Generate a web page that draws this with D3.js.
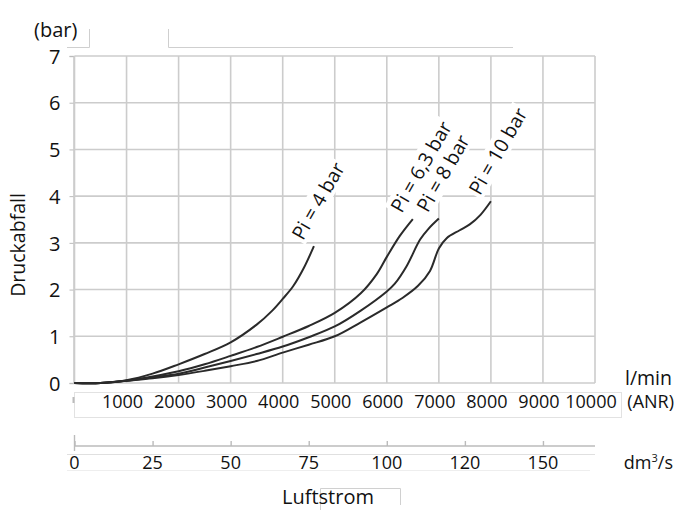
<!DOCTYPE html>
<html><head><meta charset="utf-8">
<script src="https://cdn.jsdelivr.net/npm/d3@7"></script>
<style>
html,body{margin:0;padding:0;background:#fff;}
svg{display:block;font-family:"Open Sans",sans-serif;}
</style></head>
<body>
<svg id="c" width="676" height="510"></svg>
<script>
// ---- data ----
const yTicks = [0,1,2,3,4,5,6,7];
const xTicks = [1000,2000,3000,4000,5000,6000,7000,8000,9000,10000];
const xGrid = [0,1000,2000,3000,4000,5000,6000,7000,8000,9000,10000];
const dmTicks = [0,25,50,75,100,125,150];
const dmLabels = ["0","25","50","75","100","120","150"];
const seriesNames = ["Pi = 4 bar","Pi = 6,3 bar","Pi = 8 bar","Pi = 10 bar"];
const pi4 = [[0,0],[500,0],[1000,0.06],[1500,0.2],[2000,0.4],[2500,0.62],[3000,0.87],[3500,1.25],[3800,1.55],[4000,1.8],[4200,2.07],[4400,2.45],[4600,2.93]];
const pi63 = [[0,0],[500,0],[1000,0.05],[1500,0.14],[2000,0.25],[2500,0.4],[3000,0.58],[3500,0.77],[4000,0.99],[4500,1.22],[5000,1.5],[5500,1.92],[5800,2.32],[6000,2.7],[6250,3.15],[6500,3.51]];
const pi8 = [[0,0],[500,0],[1000,0.05],[1500,0.12],[2000,0.2],[2500,0.33],[3000,0.47],[3500,0.62],[4000,0.78],[4500,0.98],[5000,1.21],[5500,1.55],[6000,1.96],[6150,2.12],[6380,2.5],[6640,3.07],[6800,3.3],[7000,3.52]];
const pi10 = [[0,0],[500,0],[1000,0.05],[1500,0.1],[2000,0.17],[2500,0.26],[3000,0.36],[3500,0.47],[4000,0.65],[4500,0.82],[5000,1.0],[5500,1.3],[6000,1.62],[6300,1.82],[6600,2.08],[6830,2.4],[7000,2.88],[7150,3.1],[7400,3.27],[7600,3.4],[7800,3.6],[8000,3.89]];
const series = [pi4, pi63, pi8, pi10];

// ---- drawing ----
const svg = d3.select("#c");
const x = d3.scaleLinear().domain([0,10000]).range([74.5,595]);
const xdm = d3.scaleLinear().domain([0,10000/60]).range([74.5,595]);
const y = d3.scaleLinear().domain([0,7]).range([383,56]);
const grid = "#cccccc";

// top artefact boxes
const art = svg.append("g").attr("stroke","#cfcfcf").attr("fill","none").attr("stroke-width",1);
art.append("path").attr("d","M67,47.5H89.5V29");
art.append("path").attr("d","M168.5,29V47.5H513");

// grid
const g = svg.append("g");
g.selectAll("line.v").data(xGrid).join("line")
  .attr("x1",d=>x(d)).attr("x2",d=>x(d)).attr("y1",y(7)).attr("y2",y(0))
  .attr("stroke",grid).attr("stroke-width",1.6);
g.selectAll("line.h").data(yTicks).join("line")
  .attr("x1",x(0)).attr("x2",x(10000)).attr("y1",d=>y(d)).attr("y2",d=>y(d))
  .attr("stroke",grid).attr("stroke-width",1.6);

// y axis
const yAxis = d3.axisLeft(y).tickValues(yTicks).tickSize(4).tickPadding(9).tickFormat(d3.format("d"));
const ya = svg.append("g").attr("transform",`translate(${x(0)-1},0)`).call(yAxis);
ya.select(".domain").attr("stroke",grid).attr("stroke-width",1.6);
ya.selectAll(".tick line").attr("stroke","#bbb");
ya.selectAll(".tick text").attr("font-size",20).attr("fill","#111").attr("font-family","Open Sans").attr("dy","0.36em");

// x tick label box
svg.append("rect").attr("x",x(0)).attr("y",392.5).attr("width",547).attr("height",25)
  .attr("fill","none").attr("stroke","#e2e2e2");
svg.append("line").attr("x1",x(0)-1).attr("x2",x(0)-1).attr("y1",397).attr("y2",403).attr("stroke","#bbb").attr("stroke-width",2);

// x axis l/min labels
const xa = svg.append("g").attr("transform",`translate(-4,0)`);
xa.selectAll("text").data(xTicks).join("text")
  .attr("x",d=>x(d)).attr("y",408).attr("text-anchor","middle")
  .attr("font-size",18).attr("fill","#111").text(d=>d);

// second axis dm3/s
const xAxis2 = d3.axisTop(xdm).tickValues(dmTicks).tickSize(5).tickFormat((d,i)=>dmLabels[i]);
const xb = svg.append("g").attr("transform","translate(0,446)").call(xAxis2);
xb.select(".domain").attr("stroke","#bbb").attr("stroke-width",1.4).attr("d",`M${xdm(0)},0H595`);
xb.selectAll(".tick line").attr("stroke","#bbb").attr("stroke-width",1.4);
xb.selectAll(".tick text").remove();
svg.append("line").attr("x1",xdm(0)).attr("x2",xdm(0)).attr("y1",435).attr("y2",451).attr("stroke","#bbb").attr("stroke-width",1.4);
svg.append("line").attr("x1",67).attr("x2",595).attr("y1",454.5).attr("y2",454.5).attr("stroke","#e0e0e0");
svg.append("line").attr("x1",67).attr("x2",590).attr("y1",470.5).attr("y2",470.5).attr("stroke","#eeeeee");
svg.append("g").selectAll("text").data(dmTicks).join("text")
  .attr("x",d=>xdm(d)).attr("y",469).attr("text-anchor","middle")
  .attr("font-size",18).attr("fill","#111").text((d,i)=>dmLabels[i]);

// curves
const line = d3.line().x(d=>x(d[0])).y(d=>y(d[1])).curve(d3.curveCatmullRom.alpha(0.5));
svg.append("g").selectAll("path").data(series).join("path")
  .attr("d",line).attr("fill","none").attr("stroke","#2a2a2a").attr("stroke-width",2);

// curve labels
series.forEach((s,i)=>{
  const e = s[s.length-1];
  const gg = svg.append("g").attr("transform",`translate(${x(e[0])-11},${y(e[1])-5}) rotate(-60)`);
  const bg = gg.append("rect").attr("fill","#fff");
  const t = gg.append("text").attr("font-size",19.5).attr("fill","#111").text(seriesNames[i]);
  const b = t.node().getBBox();
  bg.attr("x",b.x-2).attr("y",b.y+2).attr("width",b.width+4).attr("height",b.height-4);
});

// texts
svg.append("text").attr("x",34).attr("y",37).attr("font-size",20).attr("fill","#111").text("(bar)");
svg.append("text").attr("transform","translate(25,245) rotate(-90)").attr("text-anchor","middle")
  .attr("font-size",19.5).attr("fill","#111").text("Druckabfall");
svg.append("text").attr("x",672).attr("y",385).attr("text-anchor","end").attr("font-size",19.5).attr("fill","#111").text("l/min");
svg.append("text").attr("x",674).attr("y",408).attr("text-anchor","end").attr("font-size",18).attr("fill","#111").text("(ANR)");
const dm = svg.append("text").attr("x",673).attr("y",469).attr("text-anchor","end").attr("font-size",18).attr("fill","#111");
dm.append("tspan").text("dm");
dm.append("tspan").attr("font-size",11).attr("dy",-7).text("3");
dm.append("tspan").attr("dy",7).text("/s");

// Luftstrom box
svg.append("path").attr("d","M320.5,510V488.5H400.5V505").attr("fill","none").attr("stroke","#d0d0d0");
svg.append("text").attr("x",328).attr("y",504).attr("text-anchor","middle").attr("font-size",20).attr("fill","#111").text("Luftstrom");
</script>
</body></html>
